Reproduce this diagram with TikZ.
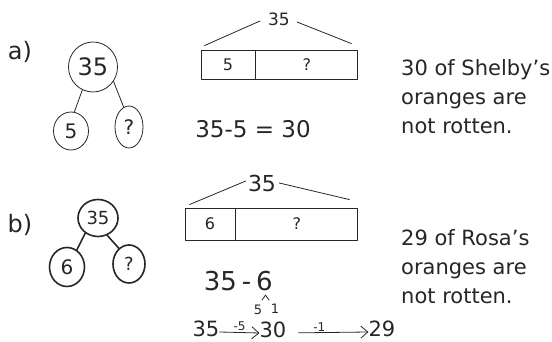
\documentclass[tikz,border=0pt]{standalone}
\usepackage{fontspec}
\setmainfont{DejaVu Sans}
\usepackage{tikz}
\usetikzlibrary{arrows.meta,positioning,shapes.geometric,calc}
\definecolor{pencil}{HTML}{262626}
\newcommand{\fs}[1]{\fontsize{#1}{#1}\selectfont}

\begin{document}
\begin{tikzpicture}[x=1pt,y=1pt,color=pencil,line cap=round,line join=round]
        \tikzstyle{bub}=[draw,ellipse,inner sep=0pt,line width=0.8pt]
        \tikzstyle{bubb}=[bub,line width=1.6pt]
        \tikzstyle{cell}=[draw,inner sep=0pt,line width=0.9pt]
        \tikzstyle{tag}=[inner sep=0pt]
        \tikzstyle{note}=[inner sep=0pt,align=left,anchor=north west,font=\fontsize{21}{29}\selectfont]
        \tikzstyle{jump}=[-{Straight Barb[length=7pt,width=12pt]},line width=0.8pt]
        \useasboundingbox (0,0) rectangle (552,342);
        % a) Shelby
        \node[tag,font=\fs{24}] (la) at (20,290) {a)};
        \node[bub,minimum width=49pt,minimum height=50pt,font=\fs{24}] (ta) at (93,275) {35};
        \node[bub,minimum width=35pt,minimum height=38pt,font=\fs{20}] (ta5) at (71,211) {5};
        \node[bub,minimum width=28pt,minimum height=42pt,font=\fs{20}] (taq) at (129,215) {?};
        \draw[line width=0.8pt] (ta.-115) -- (ta5.80);
        \draw[line width=0.8pt] (ta.-35) -- (taq.105);
        \node[cell,minimum width=54pt,minimum height=29pt,font=\fs{16}] (pa) at (228,277.5) {5};
        \node[cell,minimum width=102pt,minimum height=29pt,font=\fs{16},right=0pt of pa] (qa) {?};
        \node[tag,font=\fs{17}] (ba) at (279,323) {35};
        \draw[line width=0.8pt] ($(pa.north west)+(4,4)$) -- ($(ba.west)+(-8,-2)$);
        \draw[line width=0.8pt] ($(ba.east)+(7,-3)$) -- ($(qa.north east)+(-7,6)$);
        \node[tag,font=\fs{23}] (eqa) at (253,213) {35-5 = 30};
        \node[note] (ra) at (401,283) {30 of Shelby's\\oranges are\\not rotten.};
        % b) Rosa
        \node[tag,font=\fs{24}] (lb) at (20,117) {b)};
        \node[bubb,minimum width=40pt,minimum height=37pt,font=\fs{18}] (tb) at (98,124) {35};
        \node[bubb,minimum width=35pt,minimum height=39pt,font=\fs{20}] (tb6) at (67,75) {6};
        \node[bubb,minimum width=32pt,minimum height=38pt,font=\fs{18}] (tbq) at (129,78) {?};
        \draw[line width=1.6pt] (tb.-130) -- (tb6.60);
        \draw[line width=1.6pt] (tb.-62) -- (tbq.123);
        \node[cell,minimum width=50pt,minimum height=32pt,font=\fs{16}] (pb) at (210,118) {6};
        \node[cell,minimum width=122pt,minimum height=32pt,font=\fs{16},right=0pt of pb] (qb) {?};
        \node[tag,font=\fs{22}] (bb) at (262,159) {35};
        \draw[line width=0.8pt] ($(pb.north west)+(5,3)$) -- ($(bb.west)+(-2,2)$);
        \draw[line width=0.8pt] ($(bb.east)+(3,0)$) -- ($(qb.north east)+(-9,8)$);
        \node[tag,font=\fs{26},anchor=east] (sub) at (273,61) {35\hspace{5pt}-\hspace{5pt}6};
        \coordinate (cap) at ($(sub.south east)+(-7.5,-4)$);
        \draw[line width=0.8pt] ($(cap)+(-3.5,-5)$) -- (cap) -- ($(cap)+(3.5,-5)$);
        \node[tag,font=\fs{13}] (d5) at (258,32) {5};
        \node[tag,font=\fs{13}] (d1) at (275,33) {1};
        \node[tag,font=\fs{21}] (s35) at (206,13) {35};
        \node[tag,font=\fs{21}] (s30) at (273,12) {30};
        \node[tag,font=\fs{21}] (s29) at (382,13) {29};
        \draw[jump] ([yshift=-3pt]s35.east) -- node[above=1pt,tag,font=\fs{12}] {-5} ([yshift=-3pt]s30.west);
        \draw[jump,shorten <=12pt] ([yshift=-3pt]s30.east) -- node[pos=0.4,above=1pt,tag,font=\fs{12}] {-1} ([yshift=-3pt]s29.west);
        \node[note] (rb) at (401,113) {29 of Rosa's\\oranges are\\not rotten.};
      \end{tikzpicture}
\end{document}
